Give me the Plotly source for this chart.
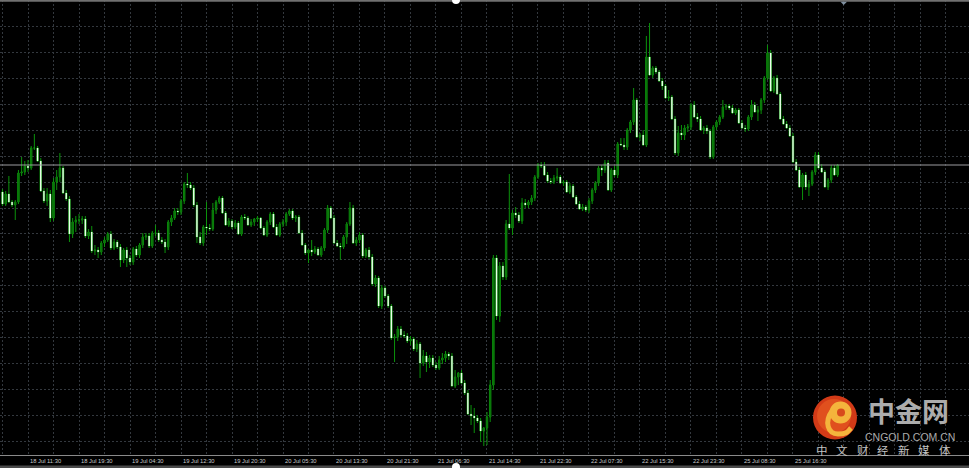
import plotly.graph_objects as go

# ---- data (XAUUSD-like M30 bars, 18-25 Jul) ----
first_open = 1325.8
close = [1324.6,1325.6,1324.8,1324.5,1324.8,1327.7,1327.8,1328.4,1328.2,1330.2,
         1330.2,1328.9,1325.9,1324.9,1325.6,1323.2,1326.8,1327.3,1328.2,1325.7,
         1325.1,1321.6,1322.8,1323.0,1323.0,1323.1,1321.4,1321.8,1319.9,1320.0,
         1319.8,1320.7,1321.0,1321.6,1320.2,1320.8,1320.3,1319.0,1320.0,1319.2,
         1318.8,1320.1,1319.5,1320.5,1321.3,1321.4,1320.4,1321.7,1321.7,1321.0,
         1320.8,1320.3,1322.8,1323.2,1323.9,1323.8,1324.9,1326.6,1326.5,1326.2,
         1324.5,1321.3,1320.7,1322.3,1322.2,1322.1,1324.0,1324.8,1325.2,1323.7,
         1322.5,1322.9,1322.3,1322.7,1321.6,1323.3,1323.2,1322.5,1322.8,1323.1,
         1323.2,1322.2,1321.5,1322.8,1323.6,1322.3,1321.5,1322.6,1322.8,1323.6,
         1323.9,1323.2,1323.3,1321.7,1320.5,1319.7,1320.0,1319.8,1320.1,1319.5,
         1320.2,1322.0,1324.2,1323.2,1320.7,1320.4,1320.3,1321.3,1322.6,1324.2,
         1320.7,1321.0,1321.5,1319.4,1320.0,1319.3,1316.6,1317.2,1314.4,1316.2,
         1315.4,1314.4,1311.2,1311.3,1312.1,1311.5,1311.4,1310.9,1311.1,1310.1,
         1310.6,1308.7,1309.4,1308.8,1309.2,1308.5,1308.2,1309.0,1309.2,1309.6,
         1309.4,1306.4,1307.3,1307.7,1306.7,1305.7,1303.6,1303.4,1303.2,1302.9,
         1301.9,1302.2,1303.3,1306.5,1319.2,1313.4,1318.4,1317.3,1322.6,1322.2,
         1323.7,1323.5,1322.9,1324.7,1324.5,1324.8,1325.2,1327.3,1328.5,1328.4,
         1327.5,1326.9,1326.8,1327.2,1327.3,1326.7,1326.8,1325.8,1326.4,1325.3,
         1324.6,1324.1,1324.3,1324.0,1324.9,1326.0,1326.7,1328.2,1328.0,1328.7,
         1326.0,1328.0,1327.5,1330.6,1330.5,1330.3,1332.0,1332.8,1335.0,1331.3,
         1331.5,1330.5,1339.3,1337.5,1338.2,1337.8,1336.9,1336.4,1335.2,1335.3,
         1333.1,1329.7,1331.7,1331.5,1332.2,1332.3,1334.5,1333.3,1333.1,1332.0,
         1332.2,1331.9,1329.3,1332.3,1332.8,1333.3,1334.3,1334.4,1334.2,1333.7,
         1334.0,1332.7,1332.2,1332.1,1333.3,1334.5,1333.8,1334.0,1335.0,1337.2,
         1339.7,1335.9,1337.2,1335.6,1333.1,1332.6,1332.2,1331.4,1328.8,1328.0,
         1326.3,1327.5,1326.3,1326.6,1327.8,1329.5,1328.2,1327.8,1326.3,1327.0,
         1328.2,1327.5,1328.5]
high = [1326.1,1325.9,1327.4,1325.0,1325.0,1328.0,1329.3,1328.9,1329.0,1330.4,
        1331.6,1330.4,1329.2,1326.2,1326.2,1326.0,1327.2,1328.0,1329.7,1328.4,
        1326.0,1325.4,1323.2,1323.4,1323.6,1323.4,1323.4,1322.1,1322.4,1320.5,
        1320.3,1320.9,1321.3,1321.8,1321.9,1321.1,1321.0,1320.6,1320.2,1320.3,
        1319.5,1320.3,1320.4,1320.7,1321.7,1321.7,1321.7,1321.9,1322.5,1322.0,
        1321.3,1321.1,1323.0,1323.5,1324.2,1324.2,1325.1,1326.8,1327.7,1326.8,
        1326.5,1324.8,1321.8,1322.5,1324.8,1322.6,1324.7,1325.0,1325.4,1325.4,
        1323.9,1323.2,1323.1,1323.0,1322.9,1323.5,1323.6,1323.4,1323.1,1323.2,
        1323.4,1323.3,1322.4,1323.0,1323.8,1323.8,1322.6,1322.8,1323.1,1323.8,
        1324.1,1324.1,1323.5,1323.5,1322.0,1320.7,1320.1,1321.0,1320.4,1320.3,
        1320.4,1322.2,1324.5,1324.4,1323.5,1321.0,1320.7,1321.5,1322.8,1324.8,
        1324.5,1321.3,1321.8,1321.7,1320.2,1320.3,1319.6,1317.5,1317.4,1316.5,
        1316.4,1315.6,1314.6,1311.6,1312.4,1312.4,1311.9,1311.7,1311.4,1311.3,
        1311.0,1310.8,1310.0,1309.8,1309.5,1309.5,1308.8,1309.4,1309.7,1309.9,
        1309.8,1309.7,1308.0,1307.8,1308.0,1307.0,1306.0,1304.5,1304.2,1303.5,
        1303.2,1302.3,1303.8,1307.0,1319.5,1319.5,1318.8,1318.8,1323.0,1327.6,
        1324.0,1324.3,1323.8,1325.2,1325.1,1325.0,1325.5,1327.5,1328.7,1328.8,
        1328.8,1327.8,1327.2,1327.5,1328.2,1327.5,1327.0,1327.0,1326.7,1326.6,
        1325.5,1324.9,1324.6,1324.5,1325.2,1326.2,1326.9,1328.4,1328.5,1329.0,
        1329.0,1328.2,1328.4,1330.8,1331.2,1331.2,1332.2,1333.0,1336.2,1335.2,
        1331.7,1332.0,1341.4,1342.7,1338.4,1338.4,1338.0,1337.2,1336.6,1336.0,
        1335.5,1333.4,1332.4,1332.5,1332.5,1332.6,1334.7,1334.9,1333.7,1333.4,
        1332.4,1332.5,1332.1,1332.5,1333.0,1333.5,1335.0,1334.6,1334.6,1334.5,
        1334.2,1334.2,1333.0,1332.5,1333.5,1335.0,1334.8,1334.4,1335.2,1337.4,
        1340.5,1340.0,1337.4,1337.5,1335.8,1333.4,1332.9,1332.5,1331.7,1329.1,
        1328.3,1327.7,1327.8,1327.0,1328.0,1329.8,1329.8,1328.6,1328.0,1327.2,
        1328.5,1328.5,1328.6]
low = [1324.4,1324.4,1324.7,1324.3,1323.0,1324.6,1327.4,1327.5,1327.8,1328.0,
       1330.0,1328.8,1325.8,1324.7,1324.4,1322.8,1322.9,1326.0,1326.8,1325.6,
       1324.9,1320.8,1321.2,1321.8,1322.6,1322.6,1321.2,1321.1,1319.7,1319.5,
       1319.2,1319.5,1320.3,1320.8,1320.0,1320.0,1320.1,1318.3,1318.7,1318.3,
       1318.5,1318.5,1319.3,1319.2,1320.2,1321.0,1320.2,1320.2,1321.4,1320.8,
       1320.6,1319.7,1320.0,1322.4,1323.0,1323.5,1323.5,1324.6,1326.2,1326.0,
       1324.3,1320.7,1320.5,1320.4,1321.5,1321.9,1321.9,1323.6,1324.6,1323.6,
       1322.4,1322.3,1322.1,1322.1,1321.5,1321.4,1323.0,1322.4,1322.3,1322.4,
       1322.8,1322.1,1321.4,1321.3,1322.5,1322.2,1321.4,1321.3,1322.3,1322.4,
       1323.4,1323.0,1322.8,1321.6,1320.4,1319.5,1318.7,1319.4,1319.6,1319.4,
       1319.3,1319.9,1321.7,1323.1,1320.6,1320.3,1319.0,1320.1,1320.6,1322.4,
       1320.6,1320.4,1320.7,1319.2,1319.2,1319.1,1316.4,1316.3,1314.2,1314.1,
       1315.2,1314.2,1311.0,1308.8,1310.9,1311.3,1311.2,1310.7,1310.5,1309.9,
       1309.8,1307.2,1308.4,1307.8,1308.2,1308.3,1308.0,1308.0,1308.6,1308.8,
       1309.0,1306.3,1306.2,1306.5,1306.6,1305.5,1303.5,1302.5,1301.7,1302.7,
       1300.8,1300.4,1300.5,1302.8,1306.0,1313.0,1312.8,1317.0,1317.0,1322.0,
       1321.5,1323.2,1322.7,1322.6,1324.2,1324.2,1324.5,1324.9,1327.1,1328.2,
       1327.4,1326.7,1326.6,1326.6,1326.9,1326.6,1326.4,1325.7,1325.6,1325.2,
       1324.5,1324.0,1323.9,1323.8,1323.7,1324.6,1325.7,1326.4,1327.4,1327.7,
       1325.9,1325.8,1327.3,1327.2,1330.4,1330.0,1330.0,1331.7,1332.5,1331.2,
       1330.9,1330.4,1330.3,1337.4,1337.2,1337.6,1336.8,1336.0,1335.1,1334.9,
       1333.0,1329.5,1329.4,1331.0,1331.0,1331.8,1332.0,1333.2,1332.8,1331.9,
       1331.6,1331.6,1329.1,1329.1,1332.0,1332.5,1333.1,1334.0,1334.0,1333.6,
       1333.5,1332.6,1332.1,1331.8,1331.9,1333.0,1333.7,1332.9,1333.6,1334.7,
       1337.0,1335.8,1335.7,1335.5,1333.0,1332.5,1332.1,1331.3,1328.7,1327.9,
       1326.2,1325.0,1326.0,1325.4,1326.4,1327.5,1328.1,1327.7,1326.2,1326.0,
       1326.7,1327.4,1327.3]
# each bar opens at the previous bar's close
open_ = [first_open] + close[:-1]
bar = list(range(len(close)))

label_bar = [8, 24, 40, 56, 72, 88, 104, 120, 136, 152, 168, 184, 200, 216, 232, 248]
label_text = ["18 Jul 11:30", "18 Jul 19:30", "19 Jul 04:30", "19 Jul 12:30",
              "19 Jul 20:30", "20 Jul 05:30", "20 Jul 13:30", "20 Jul 21:30",
              "21 Jul 06:30", "21 Jul 14:30", "21 Jul 22:30", "22 Jul 07:30",
              "22 Jul 15:30", "22 Jul 23:30", "25 Jul 08:30", "25 Jul 16:30"]

# ---- layout geometry ----
W, H = 969, 468
PLOT_H = 455
def px(x):
    return x / W
def py(y):
    return (PLOT_H - y) / PLOT_H

grid_col = "#33383e"
wick_col = "#0b920b"

fig = go.Figure()
# wicks + outlines
fig.add_trace(go.Candlestick(
    x=bar, open=open_, high=high, low=low, close=close,
    increasing=dict(line=dict(color=wick_col, width=1), fillcolor=wick_col),
    decreasing=dict(line=dict(color=wick_col, width=1), fillcolor=wick_col),
    whiskerwidth=0, hoverinfo="skip", showlegend=False,
))
# bodies: dark green for rising bars, near-white for falling bars
fig.add_trace(go.Candlestick(
    x=bar, open=open_, high=high, low=low, close=close,
    increasing=dict(line=dict(color="rgba(0,0,0,0)", width=0), fillcolor="#0a760a"),
    decreasing=dict(line=dict(color="rgba(0,0,0,0)", width=0), fillcolor="#eaffea"),
    whiskerwidth=0, hoverinfo="skip", showlegend=False,
))

xgrid = list(range(0, 304, 8))
ygrid = [1344.92 - 2.59 * n for n in range(18)]

fig.update_layout(
    width=W, height=H,
    margin=dict(l=0, r=0, t=0, b=H - PLOT_H, pad=0),
    paper_bgcolor="#000000", plot_bgcolor="#000000",
    boxgap=0.36, boxmode="overlay",
    xaxis=dict(range=[-0.784, 303.22], tickmode="array", tickvals=xgrid,
               showticklabels=False, ticks="", showgrid=True, gridcolor=grid_col,
               griddash="2px,2px", gridwidth=1, zeroline=False,
               showline=True, linecolor="#8a8a8a", linewidth=1,
               rangeslider=dict(visible=False), fixedrange=True),
    yaxis=dict(range=[1299.5, 1345.0], tickmode="array", tickvals=ygrid,
               showticklabels=False, ticks="", showgrid=True, gridcolor=grid_col,
               griddash="2px,2px", gridwidth=1, zeroline=False, fixedrange=True),
)

# bid line at last close
fig.add_shape(type="line", xref="paper", x0=0, x1=1, yref="y",
              y0=close[-1], y1=close[-1], line=dict(color="#9c9ca0", width=1))

# time labels
for b, t in zip(label_bar, label_text):
    fig.add_annotation(x=b, xref="x", y=py(460.5), yref="paper", text=t,
                       showarrow=False, xanchor="left", yanchor="middle",
                       font=dict(family="Liberation Sans", size=5.8, color="#c8c8c8"))

shapes = list(fig.layout.shapes)
# top frame strip
shapes.append(dict(type="rect", xref="paper", yref="paper", x0=0, x1=1,
                   y0=py(1.8), y1=py(0), fillcolor="#707070", line=dict(width=0)))
# bottom strip
shapes.append(dict(type="rect", xref="paper", yref="paper", x0=0, x1=1,
                   y0=py(468), y1=py(465.5), fillcolor="#4a4a4a", line=dict(width=0)))
# scroll markers
for cy in (0, 467):
    shapes.append(dict(type="circle", xref="paper", yref="paper",
                       x0=px(452), x1=px(460), y0=py(cy + 4), y1=py(cy - 4),
                       fillcolor="#ffffff", line=dict(width=0)))
# chart-shift triangle
shapes.append(dict(type="path", xref="paper", yref="paper",
                   path=f"M {px(840.5)} {py(1.8)} L {px(847)} {py(1.8)} L {px(843.7)} {py(5)} Z",
                   fillcolor="#8090a0", line=dict(width=0)))
# logo circle
shapes.append(dict(type="circle", xref="paper", yref="paper",
                   x0=px(813), x1=px(857), y0=py(439.5), y1=py(395.5),
                   fillcolor="#d23a17", line=dict(width=0)))
shapes.append(dict(type="circle", xref="paper", yref="paper",
                   x0=px(817), x1=px(851), y0=py(433), y1=py(399),
                   fillcolor="#e0501e", line=dict(width=0)))
shapes.append(dict(type="circle", xref="paper", yref="paper",
                   x0=px(829.5), x1=px(851.5), y0=py(423.5), y1=py(401.5),
                   fillcolor="#f4b43c", line=dict(width=0)))
shapes.append(dict(type="circle", xref="paper", yref="paper",
                   x0=px(837), x1=px(845), y0=py(416.5), y1=py(408.5),
                   fillcolor="#d84a1c", line=dict(width=0)))
shapes.append(dict(type="path", xref="paper", yref="paper",
                   path=(f"M {px(832)} {py(411)} C {px(824)} {py(422)} {px(828)} {py(434)} "
                         f"{px(838)} {py(434)} S {px(848)} {py(431)} {px(851)} {py(428)}"),
                   line=dict(color="#f4b43c", width=5)))
fig.update_layout(shapes=shapes)

# logo text
fig.add_annotation(x=px(908.5), y=py(410), xref="paper", yref="paper", text="<b>中金网</b>",
                   showarrow=False, xanchor="center", yanchor="middle",
                   font=dict(family="Noto Sans CJK SC", size=27, color="#acacac"))
fig.add_annotation(x=px(909.5), y=py(437), xref="paper", yref="paper", text="CNGOLD.COM.CN",
                   showarrow=False, xanchor="center", yanchor="middle",
                   font=dict(family="Liberation Sans", size=10.5, color="#acacac"))
for k, ch in enumerate("中文财经新媒体"):
    fig.add_annotation(x=px(821.7 + 20.55 * k), y=py(449.5), xref="paper", yref="paper", text=ch,
                       showarrow=False, xanchor="center", yanchor="middle",
                       font=dict(family="Noto Sans CJK SC", size=11.5, color="#c4c4c4"))

fig.write_html("out.html", config={"displayModeBar": False, "staticPlot": True},
               post_script="document.body.style.margin='0';document.body.style.overflow='hidden';")
